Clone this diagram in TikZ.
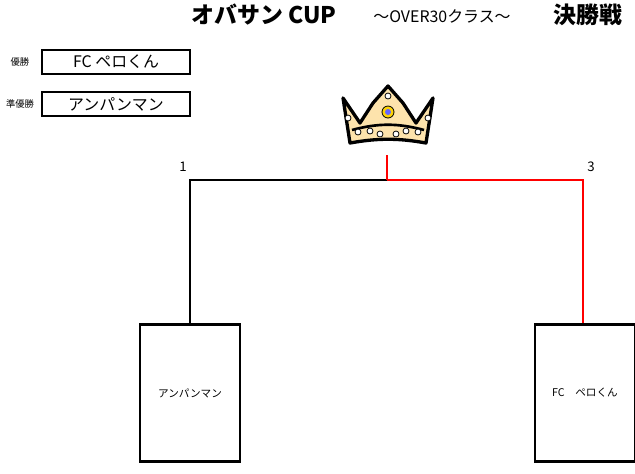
\documentclass[tikz,border=0pt]{standalone}
\usepackage{fontspec}
\newfontfamily\jp{Noto Sans CJK JP}

\begin{document}
\begin{tikzpicture}[x=0.0265cm, y=-0.0265cm, line width=1.2pt,
    namebox/.style={draw, line width=1pt, minimum width=148*0.0265cm, minimum height=24*0.0265cm, inner sep=0pt, font=\jp\large},
    teambox/.style={draw, line width=2pt, minimum width=100*0.0265cm, minimum height=137*0.0265cm, inner sep=0pt, font=\jp\footnotesize},
    gem/.style={fill=white, draw=black, line width=.6pt}]
\useasboundingbox (0,0) rectangle (635,473);

% title
\node[font=\jp\LARGE\bfseries] (ttl) at (264,15) {オバサン CUP};
\node[font=\jp\large] (sub) at (442,16) {～OVER30クラス～};
\node[font=\jp\LARGE\bfseries] (fin) at (588,15) {決勝戦};

% results
\node[font=\jp\scriptsize] (l1) at (20,62) {優勝};
\node[namebox] (w1) at (116,62) {FC ペロくん};
\node[font=\jp\scriptsize] (l2) at (20,104) {準優勝};
\node[namebox] (w2) at (116,104) {アンパンマン};

% crown
\begin{scope}[shift={(388,118)}]
    \draw[line width=2.5pt, fill=yellow!35!orange!30, line join=round]
        (-45,-20) -- (-28,5) -- (-15,-15) -- (0,-32) -- (15,-15) -- (28,5) -- (45,-20)
        -- (38,25) .. controls (10,20) and (-10,20) .. (-38,25) -- cycle;
    \draw[line width=2pt] (-36,12) .. controls (-10,5) and (10,5) .. (36,12);
    \draw[gem, fill=yellow!70!orange] (0,-6) circle (6);
    \fill[blue!60] (0,-6) circle (3);
    \foreach \x/\y in {-40/0, 40/0, -30/14, 30/14, -18/13, 18/13, -8/16, 8/16, 0/-22}
        \draw[gem] (\x,\y) circle (3);
\end{scope}

% bracket
\node[teambox] (t1) at (190,393) {アンパンマン};
\node[teambox] (t3) at (585,393) {FC　ペロくん};
\coordinate (top) at (387,180);
\coordinate (cr) at (387,155);
\draw (t1.north -| 190,0) |- (top);
\draw[red] (top) -| (t3.north -| 583,0);
\draw[red] (cr) -- (top);
\node[font=\jp] (n1) at (183,167) {1};
\node[font=\jp] (n3) at (591,167) {3};
\end{tikzpicture}
\end{document}
